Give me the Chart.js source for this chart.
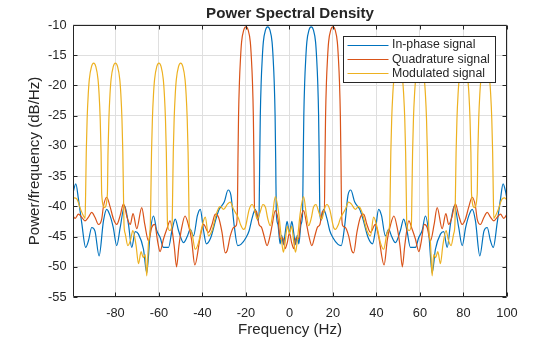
<!DOCTYPE html>
<html>
<head>
<meta charset="utf-8">
<title>Power Spectral Density</title>
<script src="https://cdn.jsdelivr.net/npm/chart.js@4.4.1/dist/chart.umd.min.js"></script>
<style>
  html, body { margin: 0; padding: 0; background: #fff; }
  #psd { display: block; }
</style>
</head>
<body>
<canvas id="psd" width="560" height="337"></canvas>
<script>
// Welch PSD of the I, Q and modulated signals (two-sided, dB/Hz)
var seriesNames = ['In-phase signal', 'Quadrature signal', 'Modulated signal'];
var seriesColors = ['#0072bd', '#d95319', '#edb120'];
var xTicks = [-80, -60, -40, -20, 0, 20, 40, 60, 80, 100];
var yTicks = [-55, -50, -45, -40, -35, -30, -25, -20, -15, -10];

var inphaseFreq = [
  -100, -99.3, -98.2, -97, -95.5, -93.7, -92.4, -90.9, -89.4, -87.5, -85.5, -84, -82.5, -81, -79.4,
  -77.8, -75.8, -74, -72.5, -70.9, -69.4, -67.1, -65.6, -64, -62.5, -61, -59.4, -57.9, -55.6, -54,
  -52.5, -51, -48.7, -47, -45.6, -44.1, -42.3, -41, -39.5, -38.2, -36.2, -33.8, -32.3, -30, -28.2,
  -26.9, -25.4, -23.8, -22.3, -20, -18.5, -17.2, -15.7, -14.5, -13.95, -13.7, -13.4, -13, -12.5, -12,
  -11, -10, -9, -8, -7.5, -7, -6.6, -6.3, -6.05, -5.3, -4.3, -3.6, -2.8, -2, -1.1,
  0,
  1.1, 2, 2.8, 3.6, 4.3, 5.3, 6.05, 6.3, 6.6, 7, 7.5, 8, 9, 10, 11,
  12, 12.5, 13, 13.4, 13.7, 13.95, 14.5, 15.7, 17.2, 18.5, 20, 22.3, 23.8, 25.4, 26.9,
  28.2, 30, 32.3, 33.8, 36.2, 38.2, 39.5, 41, 42.3, 44.1, 45.6, 47, 48.7, 51, 52.5,
  54, 55.6, 57.9, 59.4, 61, 62.5, 64, 65.6, 67.1, 69.4, 70.9, 72.5, 74, 75.8, 77.8,
  79.4, 81, 82.5, 84, 85.5, 87.5, 89.4, 90.9, 92.4, 93.7, 95.5, 97, 98.2, 99.3, 100
];
var inphasePsd = [
  -38.8, -37.5, -36.3, -38.8, -42.7, -46.8, -45.7, -43.5, -44.1, -48.2, -42.4, -40.5, -41.5, -43.5, -46.5,
  -43.5, -39.9, -43, -46.8, -44.2, -44.6, -47.1, -51, -44.3, -41.6, -44, -45.2, -46.8, -46.8, -44,
  -42.1, -44, -46, -45, -43.8, -44.9, -41.5, -40.5, -44, -46.2, -45.2, -42.1, -40.5, -39.3, -37.3,
  -38.2, -43.2, -46.5, -46.3, -45.2, -44, -42, -40.5, -42.3, -41, -33, -25, -19.5, -15.5, -12.8,
  -10.8, -10.3, -10.8, -12.8, -15.5, -19.5, -25, -33, -41, -43, -46.2, -44.8, -46.3, -44.5, -42.5,
  -44.4,
  -42.5, -44.5, -46.3, -44.8, -46.2, -43, -41, -33, -25, -19.5, -15.5, -12.8, -10.8, -10.3, -10.8,
  -12.8, -15.5, -19.5, -25, -33, -41, -42.3, -40.5, -42, -44, -45.2, -46.3, -46.5, -43.2, -38.2,
  -37.3, -39.3, -40.5, -42.1, -45.2, -46.2, -44, -40.5, -41.5, -44.9, -43.8, -45, -46, -44, -42.1,
  -44, -46.8, -46.8, -45.2, -44, -41.6, -44.3, -51, -47.1, -44.6, -44.2, -46.8, -43, -39.9, -43.5,
  -46.5, -43.5, -41.5, -40.5, -42.4, -48.2, -44.1, -43.5, -45.7, -46.8, -42.7, -38.8, -36.3, -37.5, -38.8
];

var quadFreq = [
  -100, -98.5, -97, -95.5, -94, -92.4, -90.9, -89.4, -87.8, -86.3, -85.5, -84, -82.5, -80.9, -79.4,
  -77.8, -76.3, -74.5, -73.2, -71.9, -70.2, -67.9, -66.5, -64.8, -63.3, -62, -60.5, -59.5, -57.9, -56.4,
  -54.9, -53, -51.9, -50.8, -49.5, -48, -46.5, -45, -43.5, -41, -39.5, -37.2, -35.6, -34.1, -32.6,
  -31, -29.5, -28.7, -27.2, -25.7, -24.5, -23.95, -23.7, -23.4, -23, -22.5, -22, -21, -20, -19,
  -18, -17.5, -17, -16.6, -16.3, -16.05, -15.2, -14, -12.8, -11.6, -10.3, -9, -8, -6.5, -5.3,
  -4.2, -3, -2, -1,
  0,
  1, 2, 3, 4.2, 5.3, 6.5, 8, 9, 10.3, 11.6, 12.8, 14, 15.2, 16.05, 16.3,
  16.6, 17, 17.5, 18, 19, 20, 21, 22, 22.5, 23, 23.4, 23.7, 23.95, 24.5, 25.7,
  27.2, 28.7, 29.5, 31, 32.6, 34.1, 35.6, 37.2, 39.5, 41, 43.5, 45, 46.5, 48, 49.5,
  50.8, 51.9, 53, 54.9, 56.4, 57.9, 59.5, 60.5, 62, 63.3, 64.8, 66.5, 67.9, 70.2, 71.9,
  73.2, 74.5, 76.3, 77.8, 79.4, 80.9, 82.5, 84, 85.5, 86.3, 87.8, 89.4, 90.9, 92.4, 94,
  95.5, 97, 98.5, 100
];
var quadPsd = [
  -41.3, -42, -41.3, -41.8, -42.4, -41.8, -41, -41.8, -43, -42.1, -40, -38.5, -40, -42.1, -43,
  -41.5, -39.6, -42, -43, -41.2, -43.7, -40.2, -43, -45.7, -43.5, -43, -46, -47.5, -45.4, -43.8,
  -42.4, -46.5, -50, -46.5, -43.5, -41.6, -43, -45.5, -49.7, -45, -43, -44.3, -43, -41.3, -41.8,
  -44.3, -47.7, -47.4, -44.9, -43.5, -43.2, -41, -33, -25, -19.5, -15.5, -12.8, -10.8, -10.3, -10.8,
  -12.8, -15.5, -19.5, -25, -33, -41, -40.8, -43, -43.5, -45, -46.5, -45, -43.2, -40.7, -42,
  -45.4, -45.2, -47, -46,
  -44.4,
  -46, -47, -45.2, -45.4, -42, -40.7, -43.2, -45, -46.5, -45, -43.5, -43, -40.8, -41, -33,
  -25, -19.5, -15.5, -12.8, -10.8, -10.3, -10.8, -12.8, -15.5, -19.5, -25, -33, -41, -43.2, -43.5,
  -44.9, -47.4, -47.7, -44.3, -41.8, -41.3, -43, -44.3, -43, -45, -49.7, -45.5, -43, -41.6, -43.5,
  -46.5, -50, -46.5, -42.4, -43.8, -45.4, -47.5, -46, -43, -43.5, -45.7, -43, -40.2, -43.7, -41.2,
  -43, -42, -39.6, -41.5, -43, -42.1, -40, -38.5, -40, -42.1, -43, -41.8, -41, -41.8, -42.4,
  -41.8, -41.3, -42, -41.3
];

var modFreq = [
  -100, -99, -97.7, -96, -94.8,
  -93.95, -93.7, -93.4, -93, -92.5, -92, -91, -90, -89, -88, -87.5, -87, -86.6, -86.3,
  -85,
  -83.7, -83.4, -83, -82.5, -82, -81, -80, -79, -78, -77.5, -77, -76.6, -76.3, -76.05,
  -75.5, -74.3, -73, -72, -70.5, -69.4, -68.2, -67.2, -66.3, -65.6, -64.8,
  -63.95, -63.7, -63.4, -63, -62.5, -62, -61, -60, -59, -58, -57.5, -57, -56.6, -56.3, -56.05,
  -55,
  -53.95, -53.7, -53.4, -53, -52.5, -52, -51, -50, -49, -48, -47.5, -47, -46.6, -46.3, -46.05,
  -45.4, -44.8, -43.3, -41.8, -40.3, -38.7, -37.2, -35.6, -33.4, -31.8, -30.3, -28.4, -27.2, -25.7, -23.4,
  -22.5, -21.1, -20.3, -18.5, -17.2, -16, -14.9, -13.5, -12.2, -11, -10, -8.8, -7.8, -6.5, -5,
  -3.8, -2.8, -2, -1,
  0,
  1, 2, 2.8, 3.8, 5, 6.5, 7.8, 8.8, 10, 11, 12.2, 13.5, 14.9, 16, 17.2,
  18.5, 20.3, 21.1, 22.5, 23.4, 25.7, 27.2, 28.4, 30.3, 31.8, 33.4, 35.6, 37.2, 38.7, 40.3,
  41.8, 43.3, 44.8, 45.4,
  46.05, 46.3, 46.6, 47, 47.5, 48, 49, 50, 51, 52, 52.5, 53, 53.4, 53.7, 53.95,
  55,
  56.05, 56.3, 56.6, 57, 57.5, 58, 59, 60, 61, 62, 62.5, 63, 63.4, 63.7, 63.95,
  64.8, 65.6, 66.3, 67.2, 68.2, 69.4, 70.5, 72, 73, 74.3, 75.5,
  76.05, 76.3, 76.6, 77, 77.5, 78, 79, 80, 81, 82, 82.5, 83, 83.4, 83.7,
  85,
  86.3, 86.6, 87, 87.5, 88, 89, 90, 91, 92, 92.5, 93, 93.4, 93.7, 93.95,
  94.8, 96, 97.7, 99, 100
];
var modPsd = [
  -39, -38.6, -38.8, -40.5, -41.5,
  -42, -38, -31, -25.5, -21.5, -19, -16.9, -16.3, -16.9, -19, -21.5, -25.5, -31, -38,
  -40.2,
  -38, -31, -25.5, -21.5, -19, -16.9, -16.3, -16.9, -19, -21.5, -25.5, -31, -38, -43,
  -44.5, -46.5, -45.5, -44, -46.5, -49.5, -47.5, -48.5, -48, -51.5, -46,
  -43, -38, -31, -25.5, -21.5, -19, -16.9, -16.3, -16.9, -19, -21.5, -25.5, -31, -38, -43,
  -44,
  -43, -38, -31, -25.5, -21.5, -19, -16.9, -16.3, -16.9, -19, -21.5, -25.5, -31, -38, -43,
  -44, -44.5, -47.1, -46, -43.5, -41.8, -44.9, -44, -41, -40, -40.5, -39.6, -39.3, -40.5, -42,
  -43, -43.8, -43.5, -40.5, -39.7, -40.5, -42.1, -41, -39.7, -40.2, -42, -43.2, -41.5, -38.4, -41,
  -45, -47.6, -46, -43.3,
  -44.5,
  -43.3, -46, -47.6, -45, -41, -38.4, -41.5, -43.2, -42, -40.2, -39.7, -41, -42.1, -40.5, -39.7,
  -40.5, -43.5, -43.8, -43, -42, -40.5, -39.3, -39.6, -40.5, -40, -41, -44, -44.9, -41.8, -43.5,
  -46, -47.1, -44.5, -44,
  -43, -38, -31, -25.5, -21.5, -19, -16.9, -16.3, -16.9, -19, -21.5, -25.5, -31, -38, -43,
  -44,
  -43, -38, -31, -25.5, -21.5, -19, -16.9, -16.3, -16.9, -19, -21.5, -25.5, -31, -38, -43,
  -46, -51.5, -48, -48.5, -47.5, -49.5, -46.5, -44, -45.5, -46.5, -44.5,
  -43, -38, -31, -25.5, -21.5, -19, -16.9, -16.3, -16.9, -19, -21.5, -25.5, -31, -38,
  -40.2,
  -38, -31, -25.5, -21.5, -19, -16.9, -16.3, -16.9, -19, -21.5, -25.5, -31, -38, -42,
  -41.5, -40.5, -38.8, -38.6, -39
];

var axisColor = '#262626';
var fontFamily = '"Liberation Sans", Arial, Helvetica, sans-serif';
Chart.defaults.font.family = fontFamily;
Chart.defaults.color = axisColor;

function toPoints(freq, psd) {
  return freq.map(function (f, i) { return { x: f, y: psd[i] }; });
}

// axes box with inward tick marks on all four sides, like a boxed MATLAB axes
var axesBox = {
  id: 'axesBox',
  afterDatasetsDraw: function (chart) {
    var ctx = chart.ctx, a = chart.chartArea;
    var xs = chart.scales.x, ys = chart.scales.y;
    var L = a.left + 0.5, R = a.right - 0.5, T = a.top + 0.5, B = a.bottom - 0.5;
    ctx.save();
    ctx.strokeStyle = axisColor;
    ctx.lineWidth = 1;
    ctx.beginPath();
    xTicks.forEach(function (v) {
      var px = Math.round(xs.getPixelForValue(v)) + 0.5;
      ctx.moveTo(px, B); ctx.lineTo(px, B - 4);
      ctx.moveTo(px, T); ctx.lineTo(px, T + 4);
    });
    yTicks.forEach(function (v) {
      var py = Math.round(ys.getPixelForValue(v)) + 0.5;
      ctx.moveTo(L, py); ctx.lineTo(L + 4, py);
      ctx.moveTo(R, py); ctx.lineTo(R - 4, py);
    });
    ctx.moveTo(L, T); ctx.lineTo(R, T); ctx.lineTo(R, B); ctx.lineTo(L, B); ctx.closePath();
    ctx.stroke();
    ctx.restore();
  }
};

// boxed legend in the upper right corner of the axes
var boxedLegend = {
  id: 'boxedLegend',
  afterDraw: function (chart) {
    var ctx = chart.ctx, a = chart.chartArea;
    var left = Math.round(a.right - 164) + 0.5, top = Math.round(a.top + 11) + 0.5;
    var w = 152, h = 46;
    ctx.save();
    ctx.fillStyle = '#ffffff';
    ctx.fillRect(left, top, w, h);
    ctx.strokeStyle = axisColor;
    ctx.lineWidth = 1;
    ctx.strokeRect(left, top, w, h);
    ctx.font = '12.3px ' + fontFamily;
    ctx.textBaseline = 'middle';
    ctx.textAlign = 'left';
    chart.data.datasets.forEach(function (ds, i) {
      var y = top + 8 + i * 14.2;
      ctx.strokeStyle = ds.borderColor;
      ctx.beginPath();
      ctx.moveTo(left + 4, Math.round(y) + 0.5);
      ctx.lineTo(left + 45, Math.round(y) + 0.5);
      ctx.stroke();
      ctx.fillStyle = axisColor;
      ctx.fillText(ds.label, left + 48.5, y + 0.5);
    });
    ctx.restore();
  }
};

var series = [
  toPoints(inphaseFreq, inphasePsd),
  toPoints(quadFreq, quadPsd),
  toPoints(modFreq, modPsd)
];

new Chart(document.getElementById('psd'), {
  type: 'line',
  data: {
    datasets: series.map(function (pts, i) {
      return {
        label: seriesNames[i],
        data: pts,
        borderColor: seriesColors[i],
        backgroundColor: seriesColors[i],
        borderWidth: 1.2,
        pointRadius: 0,
        fill: false,
        cubicInterpolationMode: 'monotone',
        order: 2 - i
      };
    })
  },
  options: {
    responsive: false,
    animation: false,
    devicePixelRatio: 1,
    layout: { padding: { left: 0, right: 53, top: 0, bottom: 0 } },
    plugins: {
      legend: { display: false },
      tooltip: { enabled: false },
      title: {
        display: true,
        text: 'Power Spectral Density',
        fullSize: false,
        color: axisColor,
        font: { size: 15.1, weight: 'bold', lineHeight: 1.2 },
        padding: { top: 5, bottom: 1.88 }
      }
    },
    scales: {
      x: {
        type: 'linear',
        min: -99.5,
        max: 100,
        afterBuildTicks: function (s) { s.ticks = xTicks.map(function (v) { return { value: v }; }); },
        afterFit: function (s) { s.height = 40; },
        border: { display: false },
        grid: { color: '#dfdfdf', lineWidth: 1, drawTicks: false },
        ticks: { color: axisColor, padding: 8.8, maxRotation: 0, autoSkip: false, font: { size: 12.8 } },
        title: {
          display: true,
          text: 'Frequency (Hz)',
          color: axisColor,
          font: { size: 15.1, lineHeight: 1 },
          padding: 0
        }
      },
      y: {
        type: 'linear',
        min: -55,
        max: -10,
        afterBuildTicks: function (s) { s.ticks = yTicks.map(function (v) { return { value: v }; }); },
        afterFit: function (s) { s.width = 73; },
        border: { display: false },
        grid: { color: '#dfdfdf', lineWidth: 1, drawTicks: false },
        ticks: { color: axisColor, padding: 6.5, autoSkip: false, font: { size: 12.8 } },
        title: {
          display: true,
          text: 'Power/frequency (dB/Hz)',
          color: axisColor,
          font: { size: 15.1, lineHeight: 1 },
          padding: { top: 27.3, bottom: 0 }
        }
      }
    }
  },
  plugins: [axesBox, boxedLegend]
});
</script>
</body>
</html>
